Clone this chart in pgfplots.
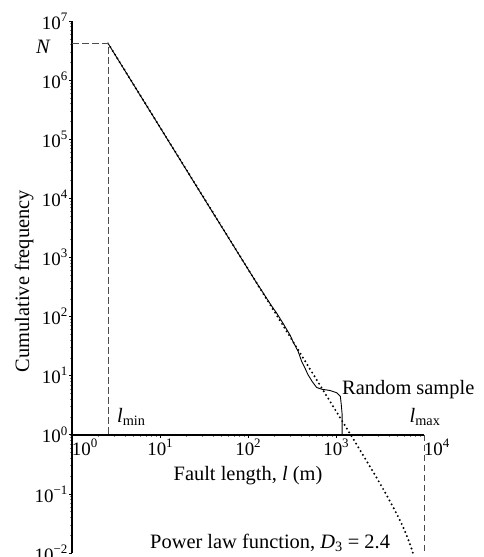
\documentclass[border=0pt]{standalone}
\usepackage{fontspec}
\setmainfont{Liberation Serif}
\usepackage{pgfplots}
\pgfplotsset{compat=1.18}
\newcommand{\tl}[1]{\mbox{\fontsize{19}{22}\selectfont 10\raisebox{0.42em}{\fontsize{13}{15}\selectfont #1}}}
\begin{document}
\begin{tikzpicture}
\begin{axis}[
  at={(0,0)}, anchor=south west,
  scale only axis, width=352bp, height=532bp,
  xmode=log, ymode=log,
  xmin=1, xmax=1e4, ymin=1e-2, ymax=1e7,
  axis x line=middle, axis y line=left,
  axis line style={-, line width=1.6bp, black},
  every inner x axis line/.append style={-},
  every outer y axis line/.append style={-},
  hide obscured x ticks=false, hide obscured y ticks=false,
  clip=false,
  tick align=outside,
  major tick length=3bp, minor tick length=2bp,
  major tick style={black, line width=0.6bp},
  minor tick style={gray, line width=0.5bp},
  xtick={1,10,100,1000,10000},
  xticklabels={{\mbox{\hphantom{\tl{0}}\tl{0}}},{\tl{1}},{\tl{2}},{\tl{3}},{\mbox{\hphantom{\tl{4}}\tl{4}}}},
  ytick={1e-2,1e-1,1,10,100,1000,1e4,1e5,1e6,1e7},
  yticklabels={{\tl{−2}},{\tl{−1}},{\tl{0}},{\tl{1}},{\tl{2}},{\tl{3}},{\tl{4}},{\tl{5}},{\tl{6}},{\tl{7}}},
  xticklabel style={inner sep=1bp},
  yticklabel style={inner sep=1.5bp},
  xlabel={Fault length, \textit{l} (m)},
  ylabel={Cumulative frequency},
  label style={font=\fontsize{20.5}{24}\selectfont},
  xlabel style={at={(axis description cs:0.5,0.137)}, anchor=base, inner sep=0pt},
  ylabel style={at={(axis description cs:-0.122,0.511)}, anchor=base, inner sep=0pt},
]
% power law function (truncated), dotted
\addplot[black, line width=2.2bp, dash pattern=on 0pt off 4.4bp, line cap=round] coordinates {
 (2.57,4.17e6) (10,1.6e5) (100,637) (316.2,40.2) (1000,2.52) (1259,1.45)
 (1585,0.830) (1995,0.473) (2512,0.268) (3162,0.150) (3981,0.0820)
 (5012,0.0429) (5623,0.0301) (6310,0.0204) (7079,0.0130) (7482,0.0100)
};
% random sample, solid
\addplot[black, line width=0.9bp] coordinates {
 (2.57,4.17e6) (31.6,1.0e4) (120.2,409) (186.2,150) (213.8,112)
 (251.2,76) (281.8,57) (302.0,48) (323.6,38.0) (371.5,25.7)
 (407.4,17.4) (446.7,13.2) (478.6,10.5) (537.0,7.94) (602.6,6.31)
 (691.8,5.89) (851.1,5.62) (1023,5.13) (1122,4.47) (1148,3.24)
 (1175,2.19) (1175,1)
};
% dashed guides
\addplot[black!70, line width=0.8bp, dash pattern=on 6.5bp off 3.5bp] coordinates {
 (1,4.17e6) (2.57,4.17e6) (2.57,1)
};
\addplot[black!70, line width=0.8bp, dash pattern=on 6.5bp off 3.5bp] coordinates {
 (10000,1) (10000,0.01)
};
\node[anchor=base east, inner sep=0pt, font=\fontsize{20.5}{24}\selectfont]
  at (axis description cs:-0.0597,0.9398) {\textit{N}};
\node[anchor=base west, inner sep=0pt, font=\fontsize{20.5}{24}\selectfont]
  at (axis description cs:0.1278,0.2462) {\textit{l}\textsubscript{min}};
\node[anchor=base, inner sep=0pt, font=\fontsize{20.5}{24}\selectfont]
  at (axis description cs:1.003,0.2462) {\textit{l}\textsubscript{max}};
\node[anchor=base west, inner sep=0pt, font=\fontsize{20.5}{24}\selectfont]
  at (axis description cs:0.767,0.297) {Random sample};
\node[anchor=base west, inner sep=0pt, font=\fontsize{20.5}{24}\selectfont]
  at (axis description cs:0.2216,0.0094) {Power law function, \textit{D}\textsubscript{3} = 2.4};
\end{axis}
\pgfresetboundingbox
\path[use as bounding box] (-72bp,-4bp) rectangle (412bp,553bp);
\end{tikzpicture}
\end{document}
